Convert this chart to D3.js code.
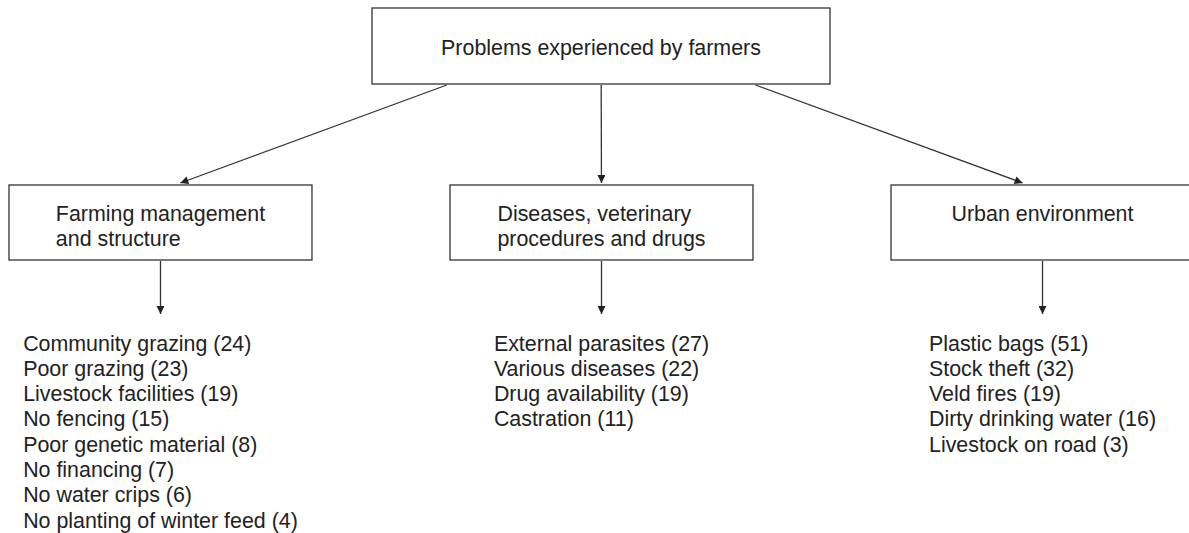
<!DOCTYPE html>
<html lang="en">
<head>
<meta charset="utf-8">
<title>Problems experienced by farmers</title>
<script src="https://d3js.org/d3.v7.min.js"></script>
<style>
  html, body { margin: 0; padding: 0; background: #fff; }
  svg text { font-family: "Liberation Sans", Arial, sans-serif; font-size: 21.4px; fill: #222; }
</style>
</head>
<body>
<svg id="chart"></svg>
<script>
const width = 1189;
const height = 533;

const rootLabel = "Problems experienced by farmers";
const groupNames = ["farming", "diseases", "urban"];
const groupLabels = [
  ["Farming management", "and structure"],
  ["Diseases, veterinary", "procedures and drugs"],
  ["Urban environment"]
];

const farmingItems = ["Community grazing", "Poor grazing", "Livestock facilities", "No fencing",
  "Poor genetic material", "No financing", "No water crips", "No planting of winter feed"];
const farmingCounts = [24, 23, 19, 15, 8, 7, 6, 4];

const diseaseItems = ["External parasites", "Various diseases", "Drug availability", "Castration"];
const diseaseCounts = [27, 22, 19, 11];

const urbanItems = ["Plastic bags", "Stock theft", "Veld fires", "Dirty drinking water", "Livestock on road"];
const urbanCounts = [51, 32, 19, 16, 3];

const groupItems = [farmingItems, diseaseItems, urbanItems];
const groupCounts = [farmingCounts, diseaseCounts, urbanCounts];

const svg = d3.select("#chart").attr("width", width).attr("height", height);

svg.append("defs").append("marker")
  .attr("id", "arrow")
  .attr("viewBox", "0 0 10 10")
  .attr("refX", 10).attr("refY", 5)
  .attr("markerUnits", "userSpaceOnUse")
  .attr("markerWidth", 9).attr("markerHeight", 8)
  .attr("orient", "auto")
  .append("path")
  .attr("d", "M0,0L10,5L0,10Z")
  .attr("fill", "#222");

// column layout for the three branches
const x = d3.scaleBand()
  .domain(groupNames)
  .range([9, 1194])
  .paddingInner(0.313)
  .paddingOuter(0);

// vertical levels
const y = d3.scaleOrdinal()
  .domain(["rootTop", "rootBottom", "boxTop", "boxBottom", "listArrowEnd", "listStart"])
  .range([8, 84, 185, 260, 314, 350.5]);
const lineStep = 25.3;

// root box
const rootX0 = 372, rootX1 = 830;
const rootCx = (rootX0 + rootX1) / 2;
svg.append("rect")
  .attr("x", rootX0).attr("y", y("rootTop"))
  .attr("width", rootX1 - rootX0).attr("height", y("rootBottom") - y("rootTop"))
  .attr("fill", "none").attr("stroke", "#333").attr("stroke-width", 1.3);
svg.append("text")
  .attr("x", rootCx).attr("y", 54.5)
  .attr("text-anchor", "middle")
  .text(rootLabel);

const groups = svg.selectAll("g.branch")
  .data(groupNames)
  .enter().append("g")
  .attr("class", "branch");

// arrows from root box to branch boxes
groups.append("line")
  .attr("x1", d => { const c = x(d) + x.bandwidth() / 2; return rootCx + (c - rootCx) * 0.35; })
  .attr("y1", y("rootBottom") + 1)
  .attr("x2", d => { const c = x(d) + x.bandwidth() / 2; return c + (rootCx - c) * 0.045; })
  .attr("y2", y("boxTop") - 2)
  .attr("stroke", "#333").attr("stroke-width", 1.3)
  .attr("marker-end", "url(#arrow)");

// branch boxes
groups.append("rect")
  .attr("x", d => x(d)).attr("y", y("boxTop"))
  .attr("width", x.bandwidth()).attr("height", y("boxBottom") - y("boxTop"))
  .attr("fill", "none").attr("stroke", "#333").attr("stroke-width", 1.3);

// box labels, block centred, lines left aligned
groups.each(function(d, i) {
  const g = d3.select(this);
  const t = g.append("text").attr("y", 220.5);
  groupLabels[i].forEach((line, j) => {
    t.append("tspan").attr("dy", j === 0 ? 0 : 25).text(line);
  });
  let w = 0;
  t.selectAll("tspan").each(function() { w = Math.max(w, this.getComputedTextLength()); });
  const left = x(d) + x.bandwidth() / 2 - w / 2;
  t.selectAll("tspan").attr("x", left);
});

// arrows down to lists
groups.append("line")
  .attr("x1", d => x(d) + x.bandwidth() / 2)
  .attr("x2", d => x(d) + x.bandwidth() / 2)
  .attr("y1", y("boxBottom") + 1)
  .attr("y2", y("listArrowEnd"))
  .attr("stroke", "#333").attr("stroke-width", 1.3)
  .attr("marker-end", "url(#arrow)");

// item lists
groups.each(function(d, i) {
  const g = d3.select(this);
  const rows = groupItems[i].map((name, k) => `${name} (${groupCounts[i][k]})`);
  const texts = g.selectAll("text.item")
    .data(rows)
    .enter().append("text")
    .attr("class", "item")
    .attr("y", (r, k) => y("listStart") + k * lineStep)
    .text(r => r);
  let w = 0;
  texts.each(function() { w = Math.max(w, this.getComputedTextLength()); });
  texts.attr("x", x(d) + x.bandwidth() / 2 - w / 2);
});
</script>
</body>
</html>
